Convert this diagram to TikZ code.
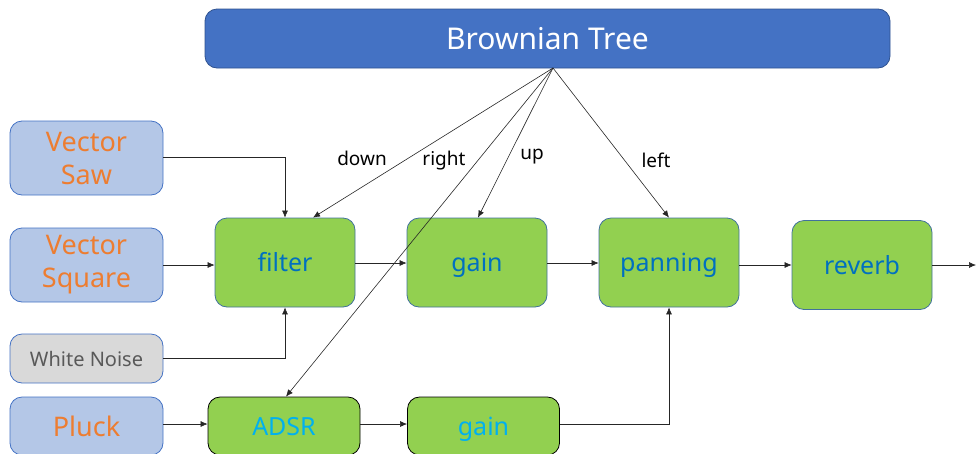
\documentclass[tikz,border=0pt]{standalone}
\usepackage{fontspec}
\setmainfont{Noto Sans}
\usetikzlibrary{arrows.meta,calc}
\definecolor{bluefill}{HTML}{4472C4}
\definecolor{blueborder}{HTML}{2F528F}
\definecolor{lightblue}{HTML}{B4C7E7}
\definecolor{srcborder}{HTML}{4472C4}
\definecolor{orangetxt}{HTML}{ED7D31}
\definecolor{greenfill}{HTML}{92D050}
\definecolor{greenborder}{HTML}{41719C}
\definecolor{bluetxt}{HTML}{0070C0}
\definecolor{cyantxt}{HTML}{00B0F0}
\definecolor{grayfill}{HTML}{D9D9D9}
\definecolor{graytxt}{HTML}{595959}
\tikzset{
  box/.style={rounded corners=12pt, line width=0.8pt, inner sep=0pt, align=center},
  srcbox/.style={box, fill=lightblue, draw=srcborder, text=orangetxt, minimum width=153pt, font=\fontsize{27}{30}\selectfont},
  procbox/.style={box, fill=greenfill, draw=greenborder, text=bluetxt, minimum width=140pt, minimum height=89pt, font=\fontsize{25}{28}\selectfont, text height=20pt, text depth=2pt},
  envbox/.style={box, fill=greenfill, draw=black, text=cyantxt, minimum width=152pt, minimum height=58pt, font=\fontsize{25}{28}\selectfont, text height=20pt, text depth=2pt},
  conn/.style={line width=0.6pt, draw=black!85, -{Latex[length=7pt,width=6pt]}},
  lbl/.style={font=\fontsize{19}{22}\selectfont, text=black},
}
\begin{document}
\begin{tikzpicture}[x=1pt,y=-1pt]
\useasboundingbox (0,0) rectangle (976,453);
\begin{scope}
\clip (0,0) rectangle (976,453);
\node[box, fill=bluefill, draw=blueborder, text=white, minimum width=685pt, minimum height=59pt, font=\fontsize{30}{33}\selectfont] (bt) at (547.5,38.5) {Brownian Tree};

\node[srcbox, minimum height=74pt] (saw) at (86.5,158) {Vector\\[3pt]Saw};
\node[srcbox, minimum height=74pt] (square) at (86.5,265) {Vector\\[3pt]Square};
\node[box, fill=grayfill, draw=srcborder, text=graytxt, minimum width=153pt, minimum height=49pt, font=\fontsize{20}{23}\selectfont] (noise) at (86.5,358.5) {White Noise};
\node[srcbox, minimum height=58pt] (pluck) at (86.5,426) {Pluck};

\node[procbox] (filter) at (285,262.5) {filter};
\node[procbox] (gain) at (477,262.5) {gain};
\node[procbox] (pan) at (669,262.5) {panning};
\node[procbox] (reverb) at (862,265) {reverb};

\node[envbox] (adsr) at (284,426) {ADSR};
\node[envbox] (gain2) at (483.5,426) {gain};

\coordinate (src) at (553,68);
\coordinate (out) at (976,265);

\draw[conn] (saw.east |- 0,157) -| (filter.north);
\draw[conn] (square) -- (filter.west |- square);
\draw[conn] (noise) -| (filter.south);
\draw[conn] (filter.east |- 0,263) -- (gain.west |- 0,263);
\draw[conn] (gain.east |- 0,263) -- (pan.west |- 0,263);
\draw[conn] (pan.east |- 0,265) -- (reverb.west |- 0,265);
\draw[conn] (reverb.east |- 0,265) -- (out);
\draw[conn] (pluck.east |- 0,424) -- (adsr.west |- 0,424);
\draw[conn] (adsr.east |- 0,424) -- (gain2.west |- 0,424);
\draw[conn] (gain2.east |- 0,424) -| (pan.south);

\draw[conn] (src) -- ($(filter.north)+(28,0)$);
\draw[conn] (src) -- ($(adsr.north)+(2,0)$);
\draw[conn] (src) -- ($(gain.north)+(1,0)$);
\draw[conn] (src) -- (pan.north);
\end{scope}

\node[lbl] (l1) at (362,158) {down};
\node[lbl] (l2) at (444,161) {right};
\node[lbl] (l3) at (532,157) {up};
\node[lbl] (l4) at (656,160) {left};
\end{tikzpicture}
\end{document}
